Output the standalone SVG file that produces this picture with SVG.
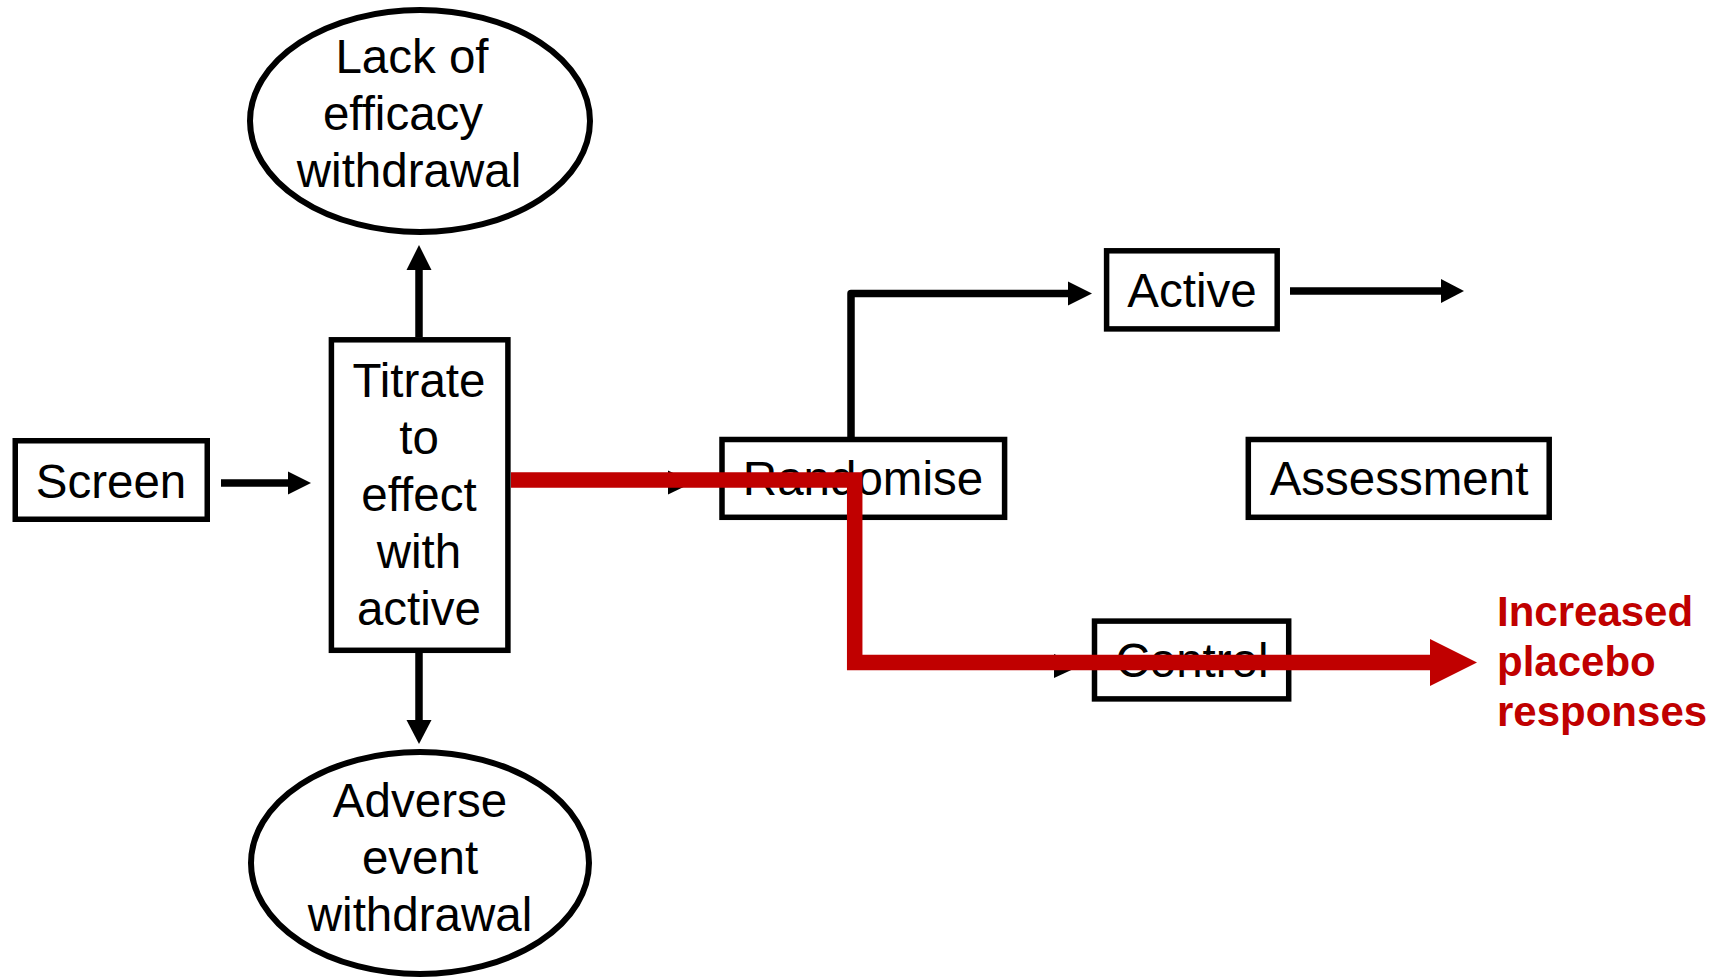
<svg xmlns="http://www.w3.org/2000/svg" width="1716" height="980" viewBox="0 0 1716 980">
<style>
.box{fill:#fff;stroke:#000;stroke-width:5.5}
.ell{fill:#fff;stroke:#000;stroke-width:6}
.t{font-family:"Liberation Sans",Arial,sans-serif;font-size:47.5px;fill:#000;text-anchor:middle}
.rt{font-family:"Liberation Sans",Arial,sans-serif;font-size:42px;font-weight:bold;fill:#C00000}
.ln{fill:none;stroke:#000;stroke-width:7.5;stroke-linejoin:round}
.hd{fill:#000}
.red{fill:none;stroke:#C00000;stroke-width:15.5;stroke-linejoin:miter}
</style>
<rect width="1716" height="980" fill="#fff"/>
<g id="screen">
<rect class="box" x="15.25" y="440.75" width="192" height="78.5"/>
<text class="t" x="111" y="498">Screen</text>
</g>
<g id="titrate">
<rect class="box" x="331.4" y="339.8" width="176.5" height="310.5"/>
<text class="t" x="419" y="397">Titrate</text>
<text class="t" x="419" y="454">to</text>
<text class="t" x="419" y="511">effect</text>
<text class="t" x="419" y="568">with</text>
<text class="t" x="419" y="625">active</text>
</g>
<g id="lack-of-efficacy">
<ellipse class="ell" cx="420" cy="121" rx="170" ry="111"/>
<text class="t" x="412" y="73">Lack of</text>
<text class="t" x="403" y="130">efficacy</text>
<text class="t" x="409" y="187">withdrawal</text>
</g>
<g id="adverse-event">
<ellipse class="ell" cx="420" cy="863" rx="169" ry="111"/>
<text class="t" x="420" y="817">Adverse</text>
<text class="t" x="420" y="874">event</text>
<text class="t" x="420" y="931">withdrawal</text>
</g>
<g id="randomise">
<rect class="box" x="722" y="439.5" width="282.6" height="77.8"/>
<text class="t" x="863" y="495">Randomise</text>
</g>
<g id="active">
<rect class="box" x="1106.6" y="250.8" width="170.6" height="78.1"/>
<text class="t" x="1192" y="307">Active</text>
</g>
<g id="assessment">
<rect class="box" x="1248.3" y="439.5" width="300.9" height="77.8"/>
<text class="t" x="1399" y="495">Assessment</text>
</g>
<g id="control">
<rect class="box" x="1094.5" y="621.1" width="194.2" height="77.8"/>
<text class="t" x="1192" y="677">Control</text>
</g>
<g id="connectors">
<path class="ln" d="M221 483H290"/>
<polygon class="hd" points="288,471.5 311,483 288,494.5"/>
<path class="ln" d="M419 337V268"/>
<polygon class="hd" points="406.5,270 419,245 431.5,270"/>
<path class="ln" d="M419 653V722"/>
<polygon class="hd" points="406.5,720 419,744 431.5,720"/>
<path class="ln" d="M851 437V293.5H1070"/>
<polygon class="hd" points="1068,281.5 1092,293.5 1068,305.5"/>
<path class="ln" d="M1290 291H1443"/>
<polygon class="hd" points="1441,279 1464,291 1441,303"/>
<path class="ln" d="M521 482.5H670"/>
<polygon class="hd" points="668,470.5 693,482.5 668,494.5"/>
<path class="ln" d="M851 520V666H1056"/>
<polygon class="hd" points="1054,654 1080,666 1054,678"/>
</g>
<g id="highlight">
<path class="red" d="M511 480H854.7V662.5H1432"/>
<polygon fill="#C00000" points="1430,639 1477,662.5 1430,686"/>
<text class="rt" x="1497" y="626">Increased</text>
<text class="rt" x="1497" y="676">placebo</text>
<text class="rt" x="1497" y="726">responses</text>
</g>
</svg>
